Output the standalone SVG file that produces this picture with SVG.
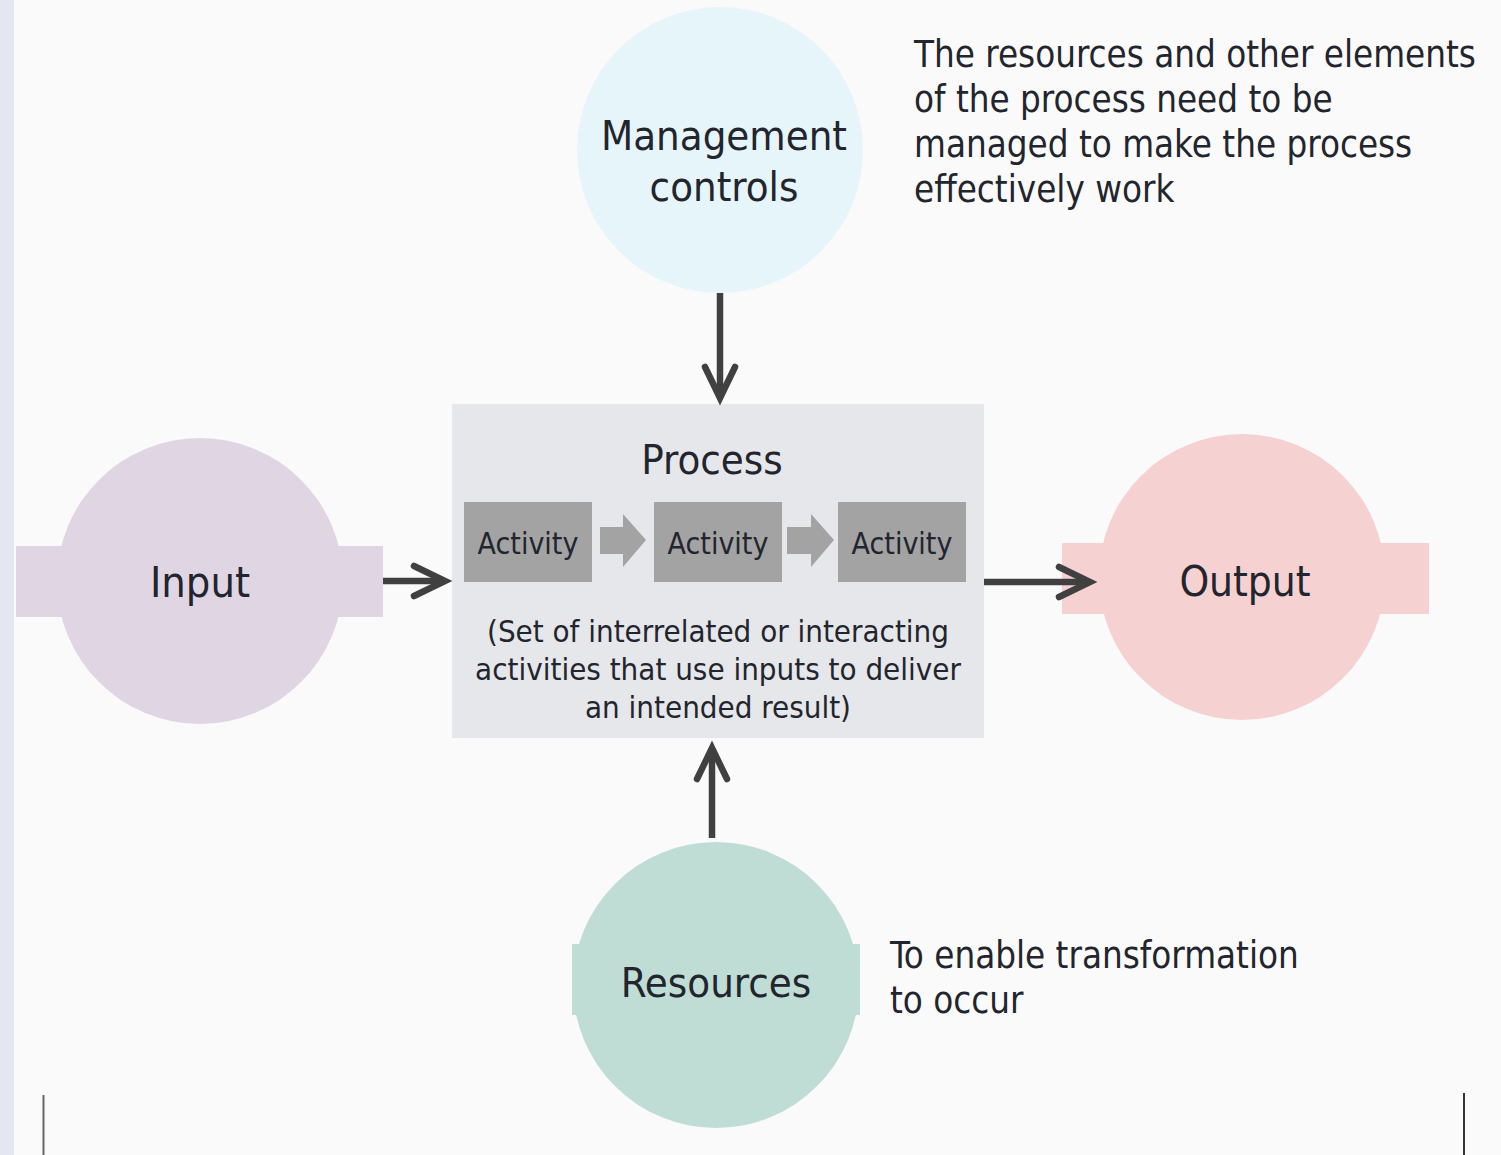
<svg xmlns="http://www.w3.org/2000/svg" width="1501" height="1155" viewBox="0 0 1501 1155">
  <style>
    text { font-family: "DejaVu Sans Condensed", "DejaVu Sans", "Liberation Sans", sans-serif; fill: #22252d; }
    .title { font-size: 41.5px; text-anchor: middle; }
    .big { font-size: 43px; }
    .act { font-size: 30px; text-anchor: middle; }
    .body { font-size: 31px; text-anchor: middle; }
    .note { font-size: 36.4px; }
    .conn { fill: none; stroke: #404040; stroke-width: 6.5; }
    .step { fill: #a3a3a3; }
  </style>
  <defs>
    <marker id="chev" markerUnits="userSpaceOnUse" viewBox="-40 -20 50 40" refX="0" refY="0" markerWidth="50" markerHeight="40" orient="auto" overflow="visible">
      <path d="M-31,-15 L0,0 L-31,15" fill="none" stroke="#404040" stroke-width="6.5" stroke-linecap="round" stroke-linejoin="miter"/>
    </marker>
  </defs>

  <!-- page -->
  <rect x="0" y="0" width="1501" height="1155" fill="#fafafa"/>
  <rect x="0" y="0" width="14" height="1155" fill="#e4e6f2"/>
  <line x1="43.5" y1="1095" x2="43.5" y2="1155" stroke="#666" stroke-width="2"/>
  <line x1="1464" y1="1093" x2="1464" y2="1155" stroke="#333" stroke-width="2"/>

  <!-- management controls -->
  <g id="management">
    <circle cx="720" cy="150" r="143" fill="#e6f5fa"/>
    <text class="title" x="724" y="150">Management</text>
    <text class="title" x="724" y="201">controls</text>
  </g>

  <!-- input -->
  <g id="input">
    <rect x="16" y="546" width="367" height="71" fill="#e0d6e3"/>
    <circle cx="200" cy="581" r="143" fill="#e0d6e3"/>
    <text class="title big" x="200" y="597">Input</text>
  </g>

  <!-- output -->
  <g id="output">
    <rect x="1062" y="543" width="367" height="71" fill="#f5d1d1"/>
    <circle cx="1242" cy="577" r="143" fill="#f5d1d1"/>
    <text class="title" x="1245" y="596" style="font-size:42px">Output</text>
  </g>

  <!-- resources -->
  <g id="resources">
    <rect x="572" y="944" width="288" height="71" fill="#bfddd5"/>
    <circle cx="716" cy="985" r="143" fill="#bfddd5"/>
    <text class="title" x="716" y="997">Resources</text>
  </g>

  <!-- process with its activities -->
  <g id="process">
    <rect x="452" y="404" width="532" height="334" fill="#e6e7eb"/>
    <text class="title" x="712" y="474">Process</text>
    <rect class="step" x="464" y="502" width="128" height="80"/>
    <rect class="step" x="654" y="502" width="128" height="80"/>
    <rect class="step" x="838" y="502" width="128" height="80"/>
    <path class="step" d="M600,527 H623 V514 L646,540 L623,567 V554 H600 Z"/>
    <path class="step" d="M787,527 H811 V514 L834,540 L811,567 V554 H787 Z"/>
    <text class="act" x="528" y="554">Activity</text>
    <text class="act" x="718" y="554">Activity</text>
    <text class="act" x="902" y="554">Activity</text>
    <text class="body" x="718" y="642">(Set of interrelated or interacting</text>
    <text class="body" x="718" y="680">activities that use inputs to deliver</text>
    <text class="body" x="718" y="718">an intended result)</text>
  </g>

  <!-- notes -->
  <g id="note-management">
    <text class="note" x="914" y="67">The resources and other elements</text>
    <text class="note" x="914" y="112">of the process need to be</text>
    <text class="note" x="914" y="157">managed to make the process</text>
    <text class="note" x="914" y="202">effectively work</text>
  </g>
  <g id="note-resources">
    <text class="note" x="890" y="968">To enable transformation</text>
    <text class="note" x="890" y="1013">to occur</text>
  </g>

  <!-- connectors -->
  <g id="connectors">
    <line class="conn" x1="383" y1="581" x2="445" y2="581" marker-end="url(#chev)"/>
    <line class="conn" x1="984" y1="582" x2="1090" y2="582" marker-end="url(#chev)"/>
    <line class="conn" x1="720" y1="293" x2="720" y2="398" marker-end="url(#chev)"/>
    <line class="conn" x1="712" y1="838" x2="712" y2="748" marker-end="url(#chev)"/>
  </g>
</svg>
